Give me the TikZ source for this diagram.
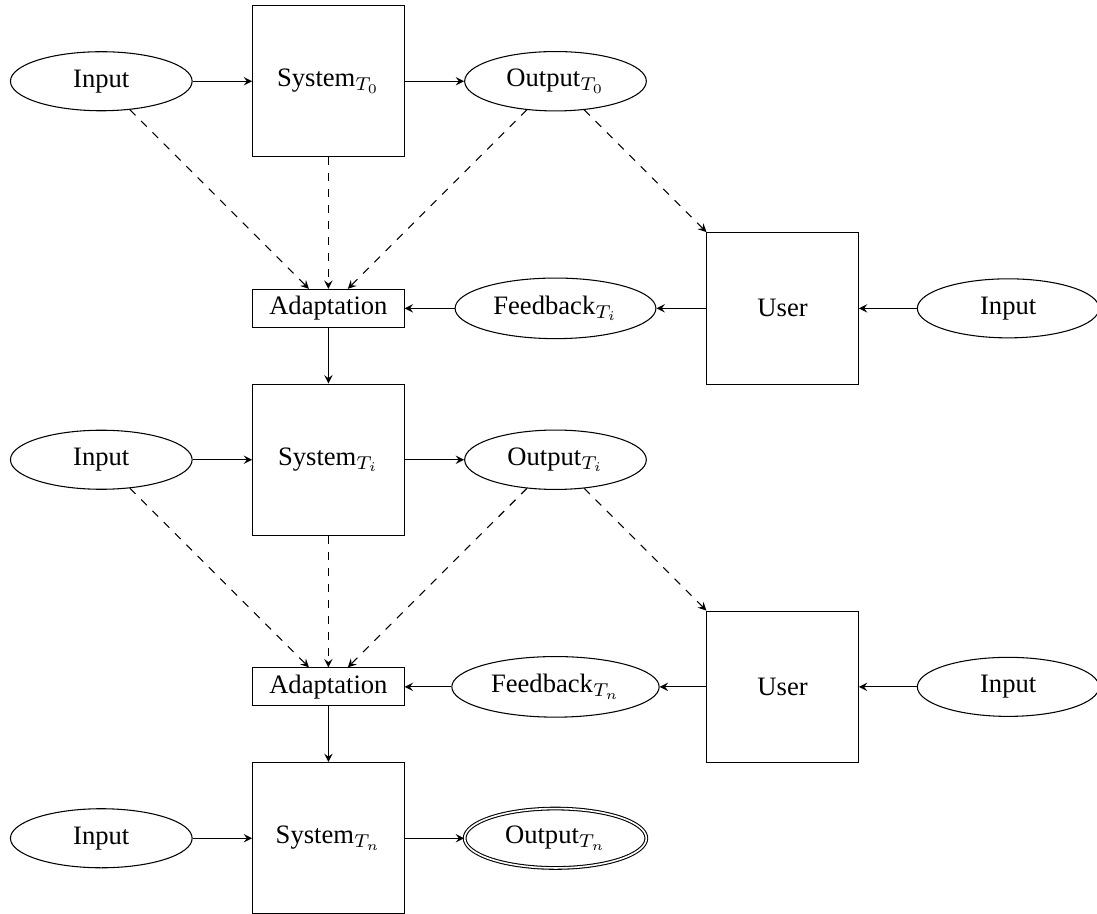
\documentclass[tikz,border=0pt]{standalone}
\usepackage[no-math]{fontspec}
\setmainfont{Liberation Serif}
\usetikzlibrary{shapes.geometric,arrows}
\begin{document}
\begin{tikzpicture}[
  >=stealth,
  every node/.style={font=\normalsize},
  blockbox/.style={draw, minimum width=2cm, minimum height=2cm},
  adaptbox/.style={draw, minimum width=2cm, minimum height=0.5cm, inner sep=2pt},
  dataell/.style={draw, ellipse, minimum width=2.4cm, minimum height=0.78cm},
  flow/.style={->},
  infl/.style={->, dashed},
]
\useasboundingbox (-4.338,1.073) rectangle (10.153,-11.0);

% first stage
\node[dataell]  (in0)  at (-3,0) {Input};
\node[blockbox] (sys0) at (0,0)  {System$_{T_0}$};
\node[dataell]  (out0) at (3,0)  {Output$_{T_0}$};

\node[adaptbox] (ad1)  at (0,-3)    {Adaptation};
\node[dataell]  (fb1)  at (3,-3)    {Feedback$_{T_i}$};
\node[blockbox] (us1)  at (6,-3)    {User};
\node[dataell]  (uin1) at (8.98,-3) {Input};

% intermediate stage
\node[dataell]  (in1)  at (-3,-5) {Input};
\node[blockbox] (sys1) at (0,-5)  {System$_{T_i}$};
\node[dataell]  (out1) at (3,-5)  {Output$_{T_i}$};

\node[adaptbox] (ad2)  at (0,-8)    {Adaptation};
\node[dataell]  (fb2)  at (3,-8)    {Feedback$_{T_n}$};
\node[blockbox] (us2)  at (6,-8)    {User};
\node[dataell]  (uin2) at (8.98,-8) {Input};

% final stage
\node[dataell]  (in2)  at (-3,-10) {Input};
\node[blockbox] (sys2) at (0,-10)  {System$_{T_n}$};
\node[dataell, double] (out2) at (3,-10) {Output$_{T_n}$};

% main flow
\draw[flow] (in0) -- (sys0);
\draw[flow] (sys0) -- (out0);
\draw[flow] (uin1) -- (us1);
\draw[flow] (us1) -- (fb1);
\draw[flow] (fb1) -- (ad1);
\draw[flow] (ad1) -- (sys1);

\draw[flow] (in1) -- (sys1);
\draw[flow] (sys1) -- (out1);
\draw[flow] (uin2) -- (us2);
\draw[flow] (us2) -- (fb2);
\draw[flow] (fb2) -- (ad2);
\draw[flow] (ad2) -- (sys2);

\draw[flow] (in2) -- (sys2);
\draw[flow] (sys2) -- (out2);

% influences
\draw[infl] (in0) -- (ad1);
\draw[infl] (sys0) -- (ad1);
\draw[infl] (out0) -- (ad1);
\draw[infl] (out0) -- (us1);

\draw[infl] (in1) -- (ad2);
\draw[infl] (sys1) -- (ad2);
\draw[infl] (out1) -- (ad2);
\draw[infl] (out1) -- (us2);
\end{tikzpicture}
\end{document}
